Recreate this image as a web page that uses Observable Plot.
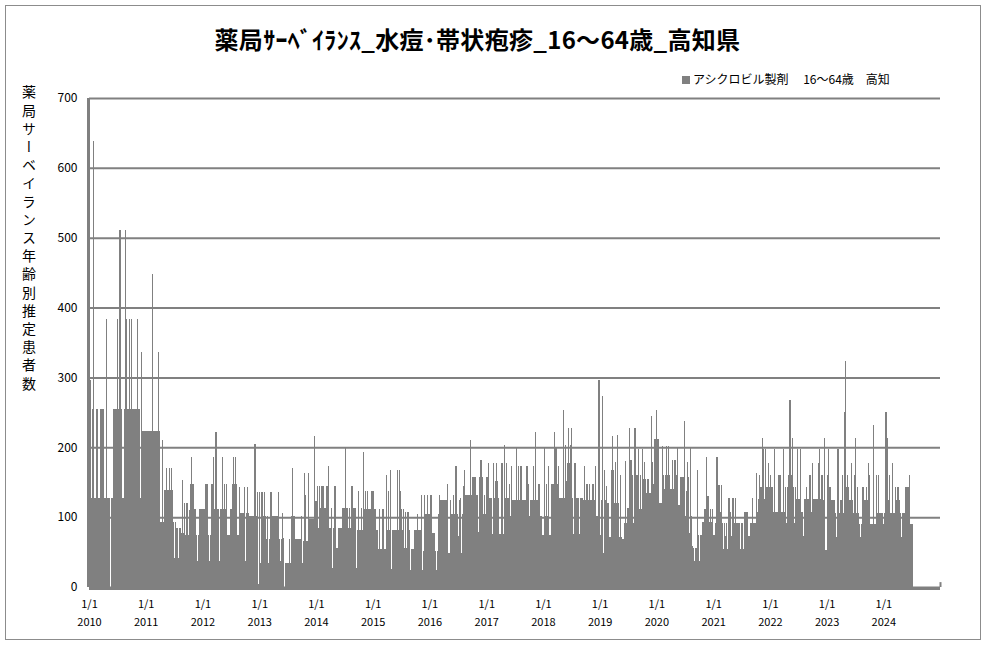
<!DOCTYPE html>
<html><head><meta charset="utf-8">
<script src="https://cdn.jsdelivr.net/npm/d3@7"></script>
<script src="https://cdn.jsdelivr.net/npm/@observablehq/plot@0.6"></script>
<style>
body{margin:0;background:#fff;}
#wrap{position:relative;width:987px;height:648px;overflow:hidden;font-family:"Noto Sans CJK JP",sans-serif;}
#frame{position:absolute;left:5px;top:5px;width:976px;height:635px;border:1px solid #8c8c8c;box-sizing:border-box;}
#title{position:absolute;left:0;width:955px;top:21px;text-align:center;font-size:24px;letter-spacing:0.3px;font-weight:bold;color:#000;}
#legend{position:absolute;left:682px;top:70px;font-size:12px;color:#000;white-space:pre;}
#legend span{display:inline-block;width:8px;height:8px;background:#808080;margin-right:3px;vertical-align:0px;}
#ylab{position:absolute;left:19px;top:85px;writing-mode:vertical-rl;font-size:14px;letter-spacing:4.2px;color:#000;}
#chart{position:absolute;left:0;top:0;}
</style></head>
<body>
<div id="wrap">
<div id="chart"></div>
<div id="frame"></div>
<div id="title">薬局ｻｰﾍﾞｲﾗﾝｽ_水痘･帯状疱疹_16～64歳_高知県</div>
<div id="legend"><span></span>アシクロビル製剤　 16～64歳　高知</div>
<div id="ylab">薬局サーベイランス年齢別推定患者数</div>
</div>
<script>
// weekly estimated patients (one value per week from Jan 1 of each year)
const y2010 = [597,297,127,255,639,127,255,255,127,127,255,255,255,255,127,127,383,127,127,0,127,127,255,255,255,255,383,255,511,255,127,127,255,511,383,255,255,383,255,383,255,255,255,255,383,255,255,127,336,223,223,223];
const y2011 = [223,223,223,223,223,223,448,223,223,223,223,336,223,93,93,211,93,139,139,170,139,170,139,170,139,93,41,93,84,84,41,84,77,153,77,120,74,120,120,74,110,148,186,148,111,111,74,37,74,111,111,111];
const y2012 = [111,111,148,148,148,74,37,74,148,148,186,111,222,111,111,37,111,111,186,111,148,111,148,74,74,111,111,148,186,148,186,148,74,74,143,106,106,106,143,37,106,143,106,102,102,102,102,205,205,102,136,5];
const y2013 = [136,34,136,102,136,102,68,102,34,68,136,136,102,102,102,102,102,136,68,37,68,106,70,0,35,35,35,68,35,102,171,102,102,68,68,68,68,68,102,34,66,163,131,66,66,163,97,97,97,97,216,123];
const y2014 = [123,144,85,144,113,144,144,113,113,144,144,173,85,85,113,27,85,144,56,56,85,85,85,85,113,113,113,200,113,85,113,85,144,144,113,113,113,27,82,137,82,113,82,193,111,137,111,137,111,111,111,137];
const y2015 = [137,111,111,82,82,55,111,55,55,111,54,55,161,82,137,82,167,26,82,82,82,82,167,82,167,137,111,82,111,56,108,56,108,82,25,54,54,54,82,82,82,104,82,82,132,25,51,132,104,104,132,104];
const y2016 = [104,132,78,78,78,52,25,52,104,132,124,124,124,124,124,124,148,49,49,124,104,104,132,104,173,104,73,124,127,49,104,144,168,131,131,131,131,210,131,157,157,157,157,131,131,79,157,182,157,104,131,104];
const y2017 = [157,157,178,127,127,76,178,127,152,178,152,127,76,76,178,76,203,127,178,127,127,148,101,173,124,124,124,199,124,173,124,173,173,124,124,124,124,173,148,101,124,124,124,173,124,222,124,124,148,101,101,74];
const y2018 = [74,199,101,148,101,173,74,148,148,148,222,199,199,148,173,127,127,127,254,127,203,152,178,228,178,203,228,127,76,178,127,127,127,76,127,127,127,124,173,124,148,124,148,124,124,148,148,124,173,101,101,297];
const y2019 = [74,124,273,49,168,124,144,120,120,71,168,216,168,120,179,120,217,120,72,160,72,68,92,181,92,113,113,228,182,182,160,92,228,160,160,198,111,160,111,198,155,179,155,134,155,134,134,245,179,148,212,212];
const y2020 = [254,212,120,120,120,202,161,141,161,202,161,202,161,141,182,141,182,182,161,200,118,118,158,158,158,237,101,138,179,158,78,200,101,58,56,37,56,167,74,37,74,74,93,93,111,111,186,130,93,111,93,111];
const y2021 = [74,74,91,186,146,146,108,146,91,54,91,73,91,54,127,108,73,127,127,91,127,91,91,91,91,54,91,54,108,108,108,108,73,73,91,91,127,91,91,163,108,126,161,143,143,213,197,126,197,143,178,143];
const y2022 = [161,143,143,108,197,108,108,161,161,161,108,108,197,108,143,91,143,161,268,161,213,143,91,143,126,197,126,126,197,108,73,126,126,143,126,126,161,161,108,178,126,126,126,126,178,197,126,161,161,125,213,53];
const y2023 = [161,197,143,143,125,125,125,125,106,71,197,106,125,125,161,106,251,323,143,161,143,125,178,125,106,161,213,106,143,106,90,71,90,143,125,125,143,125,178,161,90,90,90,232,90,161,106,161,106,106,106,106];
const y2024 = [90,106,251,213,125,161,106,106,178,106,106,143,125,143,125,106,71,106,106,106,143,143,143,143,161,90,90];

const years = [2010,2011,2012,2013,2014,2015,2016,2017,2018,2019,2020,2021,2022,2023,2024];
const series = [y2010,y2011,y2012,y2013,y2014,y2015,y2016,y2017,y2018,y2019,y2020,y2021,y2022,y2023,y2024];
const DAY = 864e5;
const data = [];
years.forEach((yr, k) => {
  const vals = series[k];
  const y0 = Date.UTC(yr,0,1), yEnd = Date.UTC(yr+1,0,1);
  vals.forEach((v,i) => {
    const s = y0 + i*7*DAY;
    const e = (i === 51) ? yEnd : Math.min(s + 7*DAY, yEnd);
    data.push({start:new Date(s), end:new Date(e), value:v});
  });
});
const yearTicks = years.map(y => new Date(Date.UTC(y,0,1)));
const yTicks = [0,100,200,300,400,500,600,700];
const grey = "#808080";
const xStart = new Date(Date.UTC(2010,0,1)), xEnd = new Date(Date.UTC(2024,11,31));

const chart = Plot.plot({
  width: 987, height: 648,
  marginLeft: 89, marginRight: 47, marginTop: 98, marginBottom: 61,
  style: {fontFamily: "'Noto Sans CJK JP', sans-serif", background: "transparent"},
  x: {type: "utc", domain: [xStart, xEnd]},
  y: {domain: [0,700]},
  marks: [
    Plot.gridY(yTicks, {stroke: grey, strokeOpacity: 1, strokeWidth: 2}),
    Plot.rectY(data, {x1: "start", x2: "end", y: "value", fill: grey, shapeRendering: "crispEdges"}),
    Plot.ruleX([xStart], {stroke: grey, strokeWidth: 3, dx: -1}),
    Plot.ruleY([0], {stroke: grey, strokeWidth: 3, dy: 1}),
    Plot.ruleX([xEnd], {y1: 0, y2: 7, stroke: grey, strokeWidth: 2}),
    Plot.axisY({ticks: yTicks, tickSize: 0, tickPadding: 12, fontSize: 12, tickFormat: d => String(d), label: null}),
    Plot.axisX({ticks: yearTicks, tickSize: 0, tickPadding: 8, fontSize: 11, lineHeight: 1.64,
      tickFormat: d => "1/1\n" + d.getUTCFullYear(), label: null})
  ]
});
document.getElementById("chart").appendChild(chart);
</script>
</body></html>
